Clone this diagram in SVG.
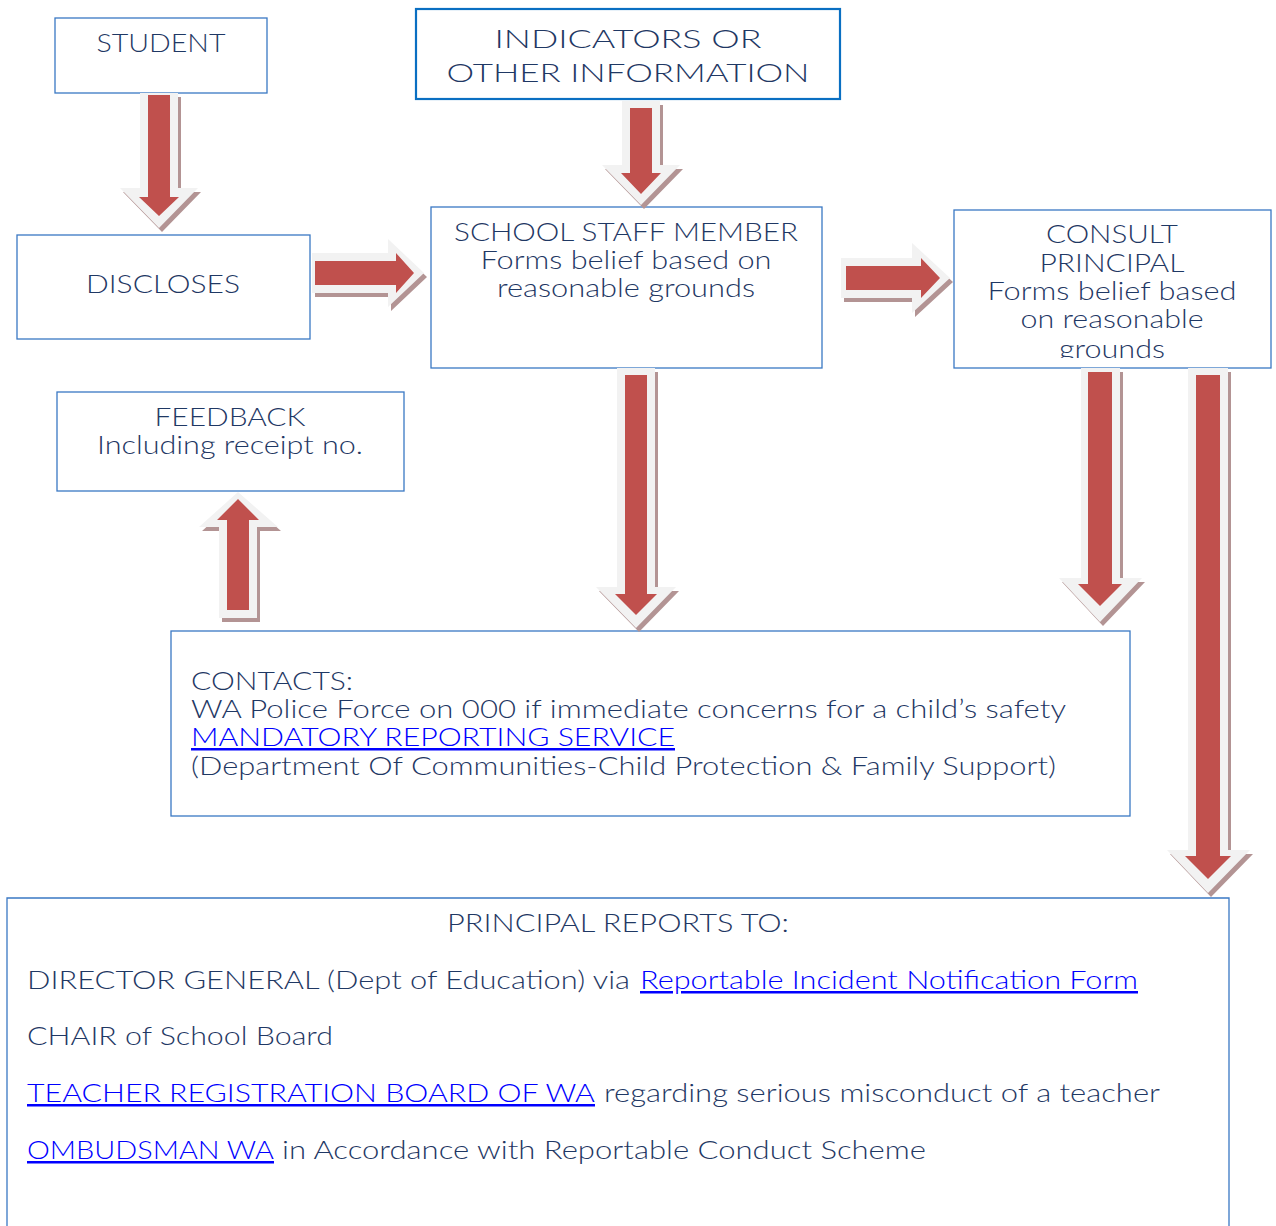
<svg xmlns="http://www.w3.org/2000/svg" width="1276" height="1226" viewBox="0 0 1276 1226">
<style>
.box{fill:#fff;stroke:#3a78c4;stroke-width:1.3}
.t{font-family:Lato,"Open Sans","Liberation Sans",sans-serif;font-weight:300;fill:#1f3864;font-size:25px}
.c{text-anchor:middle}
.lk{fill:#0000ff;text-decoration:underline}
.sh{fill:#b39494}
.ou{fill:#f2f2f2}
.in{fill:#c0504d}
</style>
<defs>
<clipPath id="cpc"><rect x="954" y="210" width="318" height="148"/></clipPath>
</defs>
<rect width="1276" height="1226" fill="#fff"/>

<g id="student"><rect class="box" x="55" y="18" width="212" height="75"/>
<text class="t c" x="161" y="52" textLength="129" lengthAdjust="spacingAndGlyphs">STUDENT</text></g>

<g id="indicators"><rect x="416" y="9" width="424" height="90" fill="#fff" stroke="#0a6fc2" stroke-width="2.2"/>
<text class="t c" x="628" y="48" font-size="31" textLength="267" lengthAdjust="spacingAndGlyphs">INDICATORS OR</text>
<text class="t c" x="628" y="82" font-size="31" textLength="363" lengthAdjust="spacingAndGlyphs">OTHER INFORMATION</text></g>

<g id="discloses"><rect class="box" x="17" y="235" width="293" height="104"/>
<text class="t c" x="163" y="293" textLength="154" lengthAdjust="spacingAndGlyphs">DISCLOSES</text></g>

<g id="staff"><rect class="box" x="431" y="207" width="391" height="161"/>
<text class="t c" x="626" y="241" textLength="344" lengthAdjust="spacingAndGlyphs">SCHOOL STAFF MEMBER</text>
<text class="t c" x="626" y="269" textLength="291" lengthAdjust="spacingAndGlyphs">Forms belief based on</text>
<text class="t c" x="626" y="297" textLength="258" lengthAdjust="spacingAndGlyphs">reasonable grounds</text></g>

<g id="consult"><rect class="box" x="954" y="210" width="317" height="158"/>
<g clip-path="url(#cpc)">
<text class="t c" x="1112" y="243" textLength="132" lengthAdjust="spacingAndGlyphs">CONSULT</text>
<text class="t c" x="1112" y="272" textLength="145" lengthAdjust="spacingAndGlyphs">PRINCIPAL</text>
<text class="t c" x="1112" y="300" textLength="249" lengthAdjust="spacingAndGlyphs">Forms belief based</text>
<text class="t c" x="1112" y="328" textLength="183" lengthAdjust="spacingAndGlyphs">on reasonable</text>
<text class="t c" x="1112" y="358" textLength="106" lengthAdjust="spacingAndGlyphs">grounds</text>
</g></g>

<g id="feedback"><rect class="box" x="57" y="392" width="347" height="99"/>
<text class="t c" x="230" y="426" textLength="151" lengthAdjust="spacingAndGlyphs">FEEDBACK</text>
<text class="t c" x="230" y="454" textLength="266" lengthAdjust="spacingAndGlyphs">Including receipt no.</text></g>

<g id="contacts"><rect class="box" x="171" y="631" width="959" height="185"/>
<text class="t" x="191" y="690" textLength="162" lengthAdjust="spacingAndGlyphs">CONTACTS:</text>
<text class="t" x="191" y="718" textLength="875" lengthAdjust="spacingAndGlyphs">WA Police Force on 000 if immediate concerns for a child’s safety</text>
<text class="t lk" x="191" y="746" textLength="484" lengthAdjust="spacingAndGlyphs">MANDATORY REPORTING SERVICE</text>
<text class="t" x="191" y="775" textLength="865" lengthAdjust="spacingAndGlyphs">(Department Of Communities-Child Protection &amp; Family Support)</text></g>

<g id="reports"><path d="M7,1240 V898 H1229 V1240" fill="#fff" stroke="#3a78c4" stroke-width="1.3"/>
<text class="t c" x="618" y="932" textLength="342" lengthAdjust="spacingAndGlyphs">PRINCIPAL REPORTS TO:</text>
<text class="t" x="27" y="989" textLength="603" lengthAdjust="spacingAndGlyphs">DIRECTOR GENERAL (Dept of Education) via</text>
<text class="t lk" x="640" y="989" textLength="498" lengthAdjust="spacingAndGlyphs">Reportable Incident Notification Form</text>
<text class="t" x="27" y="1045" textLength="306" lengthAdjust="spacingAndGlyphs">CHAIR of School Board</text>
<text class="t lk" x="27" y="1102" textLength="568" lengthAdjust="spacingAndGlyphs">TEACHER REGISTRATION BOARD OF WA</text>
<text class="t" x="604" y="1102" textLength="556" lengthAdjust="spacingAndGlyphs">regarding serious misconduct of a teacher</text>
<text class="t lk" x="27" y="1159" textLength="247" lengthAdjust="spacingAndGlyphs">OMBUDSMAN WA</text>
<text class="t" x="282" y="1159" textLength="644" lengthAdjust="spacingAndGlyphs">in Accordance with Reportable Conduct Scheme</text></g>

<g id="connectors">
<g id="a1">
<path class="sh" transform="translate(3,4)" d="M140,93 H178 V188 H198 L159,228 L120,188 H140 Z"/>
<path class="ou" d="M140,93 H178 V188 H198 L159,228 L120,188 H140 Z"/>
<path class="in" d="M148,95 H170 V197 H179 L159,216 L139,197 H148 Z"/>
</g>
<g id="a2">
<path class="sh" transform="translate(3,4)" d="M622,101 H660 V165 H680 L641,205 L602,165 H622 Z"/>
<path class="ou" d="M622,101 H660 V165 H680 L641,205 L602,165 H622 Z"/>
<path class="in" d="M630,108 H652 V173 H661 L641,194 L621,173 H630 Z"/>
</g>
<g id="a3">
<path class="sh" transform="translate(3,4)" d="M312,253 H388 V239 L424,273 L388,307 V293 H312 Z"/>
<path class="ou" d="M312,253 H388 V239 L424,273 L388,307 V293 H312 Z"/>
<path class="in" d="M315,261 H396 V253 L414,273 L396,293 V285 H315 Z"/>
</g>
<g id="a4">
<path class="sh" transform="translate(3,4)" d="M841,258 H912 V243 L950,278 L912,313 V298 H841 Z"/>
<path class="ou" d="M841,258 H912 V243 L950,278 L912,313 V298 H841 Z"/>
<path class="in" d="M846,266 H921 V258 L940,278 L921,298 V290 H846 Z"/>
</g>
<g id="a5">
<path class="sh" transform="translate(3,4)" d="M617,368 H655 V587 H676 L636,628 L596,587 H617 Z"/>
<path class="ou" d="M617,368 H655 V587 H676 L636,628 L596,587 H617 Z"/>
<path class="in" d="M625,375 H647 V594 H657 L636,615 L615,594 H625 Z"/>
</g>
<g id="a6">
<path class="sh" transform="translate(3,4)" d="M219,618 H257 V527 H278 L238,492 L199,527 H219 Z"/>
<path class="ou" d="M219,618 H257 V527 H278 L238,492 L199,527 H219 Z"/>
<path class="in" d="M227,610 H249 V520 H259 L238,499 L217,520 H227 Z"/>
</g>
<g id="a7">
<path class="sh" transform="translate(3,4)" d="M1081,368 H1120 V578 H1142 L1100,622 L1059,578 H1081 Z"/>
<path class="ou" d="M1081,368 H1120 V578 H1142 L1100,622 L1059,578 H1081 Z"/>
<path class="in" d="M1088,372 H1112 V584 H1122 L1100,606 L1078,584 H1088 Z"/>
</g>
<g id="a8">
<path class="sh" transform="translate(3,4)" d="M1188,368 H1228 V850 H1250 L1208,893 L1167,850 H1188 Z"/>
<path class="ou" d="M1188,368 H1228 V850 H1250 L1208,893 L1167,850 H1188 Z"/>
<path class="in" d="M1196,375 H1220 V856 H1231 L1208,879 L1185,856 H1196 Z"/>
</g>
</g>
</svg>
